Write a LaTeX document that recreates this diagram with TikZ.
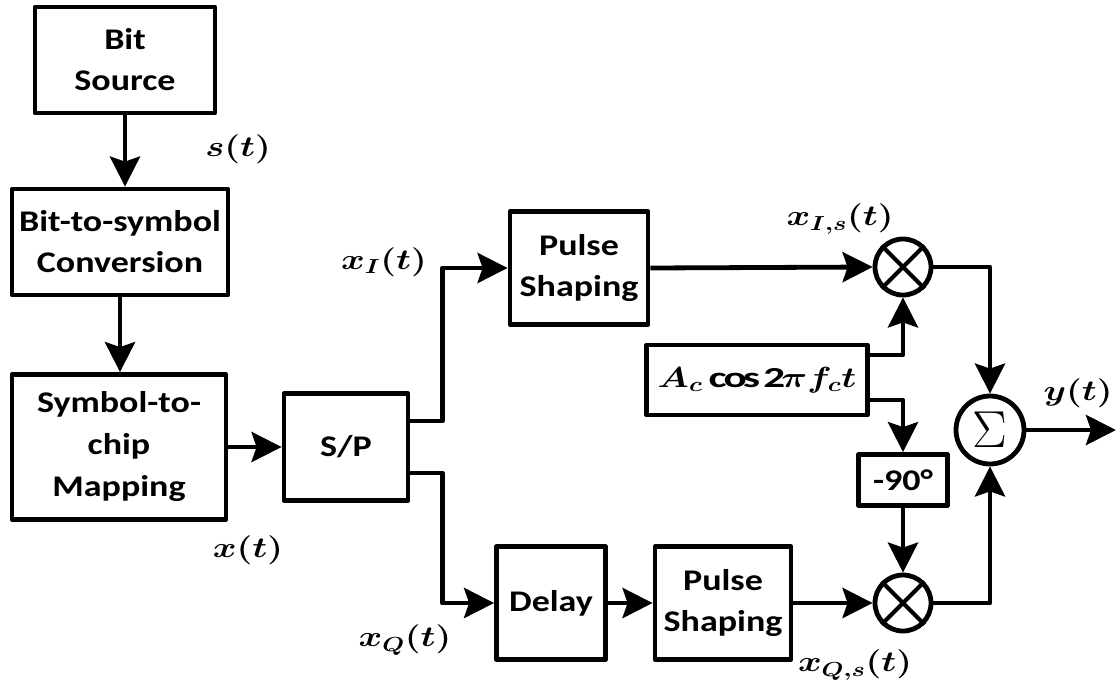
\RequirePackage{fix-cm}
\documentclass[tikz,border=0pt]{standalone}
\usepackage{amsmath,bm,graphicx}
\usepackage{fontspec}
\setmainfont{Carlito}[FakeStretch=1.2]
\usetikzlibrary{arrows.meta}
\newcommand{\wm}[1]{\scalebox{1.24}[1]{$#1$}}
\begin{document}
\begin{tikzpicture}[x=1pt,y=-1pt,
  line width=4.8pt, line join=round,
  blk/.style={draw, rectangle, align=center, inner sep=0pt,
    font=\fontsize{30}{41}\selectfont\bfseries},
  mix/.style={draw, circle, minimum size=56pt, inner sep=0pt},
  lab/.style={font=\fontsize{29}{32}\selectfont, inner sep=0pt},
  arr/.style={-{Stealth[length=30pt,width=30pt,inset=5pt]}}]
\useasboundingbox (0,0) rectangle (1117,689);
% blocks
\node[blk, minimum width=180pt, minimum height=106pt] (bs) at (125,60) {Bit\\Source};
\node[blk, minimum width=216pt, minimum height=106pt] (b2s) at (120,242) {Bit-to-symbol\\Conversion};
\node[blk, minimum width=214pt, minimum height=145pt, font=\fontsize{30}{42}\selectfont\bfseries] (s2c) at (119,447) {Symbol-to-\\chip\\Mapping};
\node[blk, minimum width=124pt, minimum height=107pt] (sp) at (346,447) {S/P};
\node[blk, minimum width=138pt, minimum height=113pt] (ps1) at (579,268) {Pulse\\Shaping};
\node[blk, minimum width=109pt, minimum height=113pt] (dl) at (551,603) {Delay};
\node[blk, minimum width=136pt, minimum height=113pt] (ps2) at (723,603) {Pulse\\Shaping};
\node[blk, minimum width=221pt, minimum height=70pt, font=\fontsize{29}{32}\selectfont] (osc) at (757,380) {\wm{\bm{A_c}\,\mathbf{cos}\,\mathbf{2}\bm{\pi} \bm{f_c t}}};
\node[blk, minimum width=89pt, minimum height=51pt] (ph) at (903,480) {-90°};
\node[mix] (m1) at (903,267) {};
\node[mix] (m2) at (903,603) {};
\node[draw, circle, minimum size=68pt, inner sep=0pt, font=\fontsize{52}{52}\selectfont] (sg) at (990,430) {$\Sigma$};
\coordinate (out) at (1116,430);
% crosses
\foreach \m in {m1,m2}{
  \draw[line width=4.2pt] (\m.north east) -- (\m.south west);
  \draw[line width=4.2pt] (\m.north west) -- (\m.south east);
}
% connectors
\draw[arr] (bs.south) -- (bs.south |- b2s.north);
\draw[arr] (b2s.south) -- (b2s.south |- s2c.north);
\draw[arr] (s2c.east) -- (sp.west);
\draw[arr] ([yshift=26pt]sp.east) -- ++(32pt,0) |- (ps1.west);
\draw[arr] ([yshift=-26pt]sp.east) -- ++(32pt,0) |- (dl.west);
\draw[arr] (dl.east) -- (ps2.west);
\draw[arr] (ps1.east) -- (m1.west);
\draw[arr] (ps2.east) -- (m2.west);
\draw[arr] ([yshift=25pt]osc.east) -| (m1.south);
\draw[arr] ([yshift=-20pt]osc.east) -| (ph.north);
\draw[arr] (ph.south) -- (m2.north);
\draw[arr] (m1.east) -| (sg.north);
\draw[arr] (m2.east) -| (sg.south);
\draw[arr] (sg.east) -- (out);
% labels
\node[lab] (ls) at (238,149) {\wm{\bm{s(t)}}};
\node[lab] (lx) at (248,550) {\wm{\bm{x(t)}}};
\node[lab] (lxi) at (384,262) {\wm{\bm{x_I(t)}}};
\node[lab] (lxq) at (405,640) {\wm{\bm{x_Q(t)}}};
\node[lab] (lxis) at (840,219) {\wm{\bm{x_{I,s}(t)}}};
\node[lab] (lxqs) at (855,665) {\wm{\bm{x_{Q,s}(t)}}};
\node[lab] (ly) at (1078,393) {\wm{\bm{y(t)}}};
\end{tikzpicture}
\end{document}
